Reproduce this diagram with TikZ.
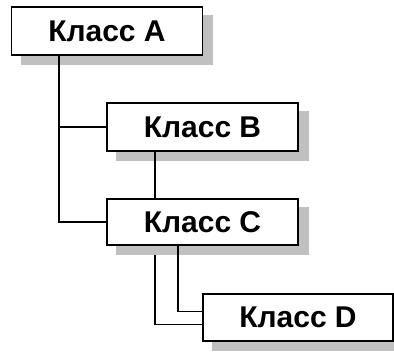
\documentclass[tikz,border=0pt]{standalone}
\usepackage{fontspec}
\setmainfont{Liberation Sans}
\usetikzlibrary{backgrounds}
\definecolor{shadowgray}{RGB}{192,192,192}
\tikzset{
  classbox/.style={draw=black, line width=1.4pt, fill=white, minimum width=191pt,
    minimum height=47pt, inner sep=0pt, font=\fontsize{30}{36}\selectfont\bfseries},
  link/.style={draw=black, line width=1.8pt},
  shade/.style={fill=shadowgray}
}
\newcommand{\boxshadow}[1]{%
  \fill[shade] ([shift={(10pt,-9pt)}]#1.north west) rectangle ([shift={(10pt,-9pt)}]#1.south east);}
\begin{document}
\begin{tikzpicture}[x=1pt,y=1pt]
\useasboundingbox (0,0) rectangle (394,352);
\node[classbox, minimum height=48pt] (A) at (107,321) {Класс A};
\node[classbox, minimum height=48pt] (B) at (202.5,225) {Класс B};
\node[classbox, minimum height=46pt] (C) at (202.5,130) {Класс C};
\node[classbox, minimum width=190pt] (D) at (298,34.5) {Класс D};
\coordinate (ajoin) at (59,0);
\coordinate (cout) at (155,0);
\coordinate (cin) at (178,0);
\begin{pgfonlayer}{background}
  % outer link from C to D runs beneath C's shadow
  \draw[link] (cout |- C.south) |- ([yshift=-7pt]D.west);
  \boxshadow{A}
  \boxshadow{B}
  \boxshadow{C}
  \boxshadow{D}
  \draw[link] (ajoin |- A.south) |- (C.west);
  \draw[link] (ajoin |- B.west) -- (B.west);
  \draw[link] (cout |- B.south) -- (cout |- C.north);
  \draw[link] (cin |- C.south) |- ([yshift=6pt]D.west);
\end{pgfonlayer}
\end{tikzpicture}
\end{document}
